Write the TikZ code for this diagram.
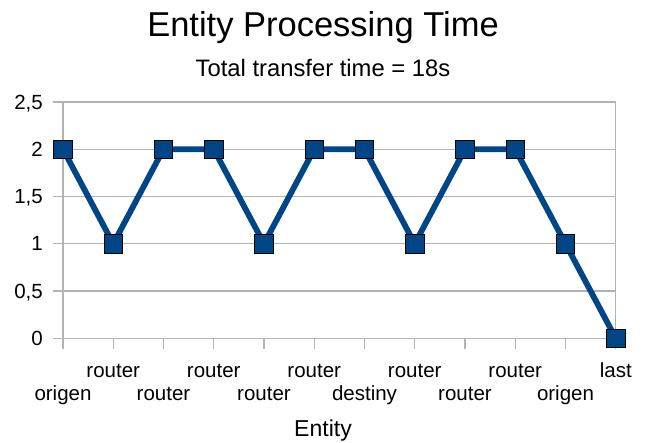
\documentclass[tikz,border=0pt]{standalone}
\usepackage{fontspec}
\setmainfont{Liberation Sans}
\definecolor{series}{HTML}{004586}
\definecolor{gridc}{HTML}{B3B3B3}
\begin{document}
\begin{tikzpicture}[x=1pt,y=-1pt,
  gridline/.style={draw=gridc,line width=1.2pt},
  seriesline/.style={draw=series,line width=5.8pt,line join=round},
  marker/.style={rectangle,draw=black,line width=0.9pt,fill=series,minimum size=18.5pt,inner sep=0pt},
  ylab/.style={anchor=base east,font=\fontsize{20.5}{20.5}\selectfont,inner sep=0pt},
  xlab/.style={anchor=base,font=\fontsize{20.5}{20.5}\selectfont,inner sep=0pt},
  titletext/.style={anchor=base,font=\fontsize{34.5}{34.5}\selectfont,inner sep=0pt},
  subtext/.style={anchor=base,font=\fontsize{23.8}{23.8}\selectfont,inner sep=0pt},
  axtitle/.style={anchor=base,font=\fontsize{23}{23}\selectfont,inner sep=0pt}]
\useasboundingbox (0,0) rectangle (645,442);
\fill[white] (0,0) rectangle (645,442);
% grid
\foreach \v/\t in {0/0,0.5/{0,5},1/1,1.5/{1,5},2/2,2.5/{2,5}}{
  \draw[gridline] (53,338.3-94.52*\v) -- (615.7,338.3-94.52*\v);
  \node[ylab] at (43,338.3-94.52*\v+7) {\t};
}
\draw[gridline] (63,102) -- (63,349);
\draw[gridline] (615.7,102) -- (615.7,349);
\foreach \i in {2,...,11}{
  \draw[gridline] (63+50.25*\i-50.25,338.3) -- (63+50.25*\i-50.25,349);
}
% data coordinates
\foreach \i/\v in {1/2,2/1,3/2,4/2,5/1,6/2,7/2,8/1,9/2,10/2,11/1,12/0}{
  \coordinate (c\i) at (63+50.25*\i-50.25,338.3-94.52*\v);
}
\draw[seriesline] (c1) -- (c2) -- (c3) -- (c4) -- (c5) -- (c6) -- (c7) -- (c8) -- (c9) -- (c10) -- (c11) -- (c12);
\foreach \i in {1,...,12}{
  \node[marker] (p\i) at (c\i) {};
}
% x labels
\foreach \i/\t/\r in {1/origen/400,2/router/377,3/router/400,4/router/377,5/router/400,6/router/377,7/destiny/400,8/router/377,9/router/400,10/router/377,11/origen/400,12/last/377}{
  \node[xlab] (l\i) at (63+50.25*\i-50.25,\r) {\t};
}
\node[titletext] (title) at (323,36.5) {Entity Processing Time};
\node[subtext] (sub) at (323,76.7) {Total transfer time = 18s};
\node[axtitle] (axt) at (323,436.7) {Entity};
\end{tikzpicture}
\end{document}
